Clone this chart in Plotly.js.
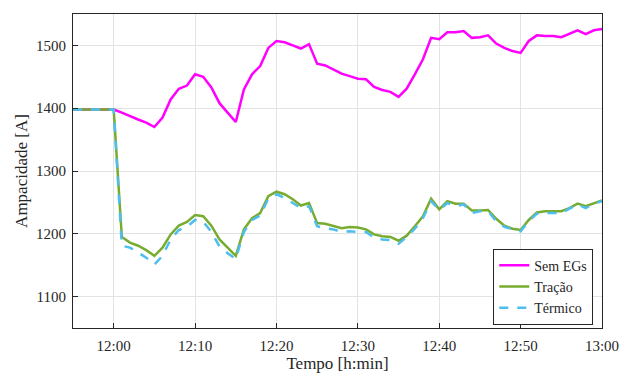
<!DOCTYPE html>
<html>
<head>
<meta charset="utf-8">
<script src="https://cdn.plot.ly/plotly-3.0.1.min.js"></script>
<style>
html,body{margin:0;padding:0;background:#fff;}
#chart{width:622px;height:376px;}
</style>
</head>
<body>
<div id="chart"></div>
<script>
// Minutes from 11:55 to 13:00 (1-minute samples)
const minutes = [
  "11:55","11:56","11:57","11:58","11:59",
  "12:00","12:01","12:02","12:03","12:04","12:05","12:06","12:07","12:08","12:09",
  "12:10","12:11","12:12","12:13","12:14","12:15","12:16","12:17","12:18","12:19",
  "12:20","12:21","12:22","12:23","12:24","12:25","12:26","12:27","12:28","12:29",
  "12:30","12:31","12:32","12:33","12:34","12:35","12:36","12:37","12:38","12:39",
  "12:40","12:41","12:42","12:43","12:44","12:45","12:46","12:47","12:48","12:49",
  "12:50","12:51","12:52","12:53","12:54","12:55","12:56","12:57","12:58","12:59",
  "13:00"
];

const semEGs = [
  1398,1398,1398,1398,1398,
  1398,1393,1387,1382,1377,1370,1385,1414,1431,1436,
  1454,1450,1433,1408,1393,1378,1430,1454,1467,1496,
  1507,1505,1500,1495,1502,1471,1468,1461,1455,1451,
  1447,1446,1434,1429,1426,1418,1431,1454,1478,1512,
  1510,1521,1521,1523,1512,1513,1516,1503,1496,1491,
  1488,1507,1516,1515,1515,1513,1519,1524,1518,1524,
  1526
];

const tracao = [
  1398,1398,1398,1398,1398,
  1398,1195,1186,1181,1174,1165,1178,1199,1213,1219,
  1230,1228,1213,1191,1178,1165,1207,1225,1233,1260,
  1267,1263,1255,1245,1249,1217,1216,1213,1209,1211,
  1210,1207,1199,1196,1195,1189,1197,1212,1228,1256,
  1239,1252,1248,1248,1237,1237,1238,1224,1213,1208,
  1206,1222,1234,1236,1236,1236,1241,1248,1244,1249,
  1253
];

const termico = [
  1398,1398,1398,1398,1398,
  1398,1181,1178,1170,1162,1151,1165,1191,1206,1211,
  1222,1219,1203,1180,1169,1160,1203,1222,1229,1256,
  1263,1257,1249,1241,1244,1212,1209,1207,1203,1204,
  1203,1203,1194,1191,1190,1184,1195,1208,1225,1252,
  1238,1249,1244,1247,1233,1236,1236,1220,1211,1207,
  1204,1220,1232,1233,1233,1233,1240,1247,1241,1248,
  1252
];

const xTickLabels = ["12:00","12:10","12:20","12:30","12:40","12:50","13:00"];
const yTickVals = [1100,1200,1300,1400,1500];

const day = "2024-01-01 ";
const xs = minutes.map(m => day + m);

const serif = "Liberation Serif, Times New Roman, serif";

const traces = [
  {x: xs, y: semEGs, name: "Sem EGs", type: "scatter", mode: "lines",
   line: {color: "#ff00ff", width: 2.5}},
  {x: xs, y: tracao, name: "Tração", type: "scatter", mode: "lines",
   line: {color: "#77ac30", width: 2.5}},
  {x: xs, y: termico, name: "Térmico", type: "scatter", mode: "lines",
   line: {color: "#4dbeee", width: 2.5, dash: "dash"}}
];

const layout = {
  width: 622, height: 376,
  margin: {l: 73, r: 20, t: 14, b: 48},
  paper_bgcolor: "#fff", plot_bgcolor: "#fff",
  font: {family: serif, color: "#262626", size: 15},
  showlegend: true,
  legend: {
    x: 0.9835, y: 0.0105, xanchor: "right", yanchor: "bottom",
    bgcolor: "#fff", bordercolor: "#262626", borderwidth: 1,
    font: {family: serif, size: 14, color: "#262626"},
    tracegroupgap: 0, itemwidth: 30
  },
  xaxis: {
    type: "date",
    range: [day + "11:55", day + "13:00"],
    tickvals: xTickLabels.map(t => day + t),
    ticktext: xTickLabels,
    ticks: "inside", ticklen: 5, tickcolor: "#262626",
    ticklabelstandoff: 4,
    showline: true, linecolor: "#262626", linewidth: 1, mirror: true,
    showgrid: true, gridcolor: "#e3e3e3", gridwidth: 1,
    zeroline: false,
    tickfont: {family: serif, size: 15, color: "#262626"},
    title: {text: "Tempo [h:min]", font: {family: serif, size: 17, color: "#262626"}, standoff: 3}
  },
  yaxis: {
    range: [1050, 1550],
    tickvals: yTickVals,
    ticktext: yTickVals.map(String),
    ticks: "inside", ticklen: 5, tickcolor: "#262626",
    ticklabelstandoff: 3,
    showline: true, linecolor: "#262626", linewidth: 1, mirror: true,
    showgrid: true, gridcolor: "#e3e3e3", gridwidth: 1,
    zeroline: false,
    tickfont: {family: serif, size: 15, color: "#262626"},
    title: {text: "Ampacidade [A]", font: {family: serif, size: 17, color: "#262626"}, standoff: 4}
  }
};

Plotly.newPlot("chart", traces, layout, {displayModeBar: false, staticPlot: true});
</script>
</body>
</html>
